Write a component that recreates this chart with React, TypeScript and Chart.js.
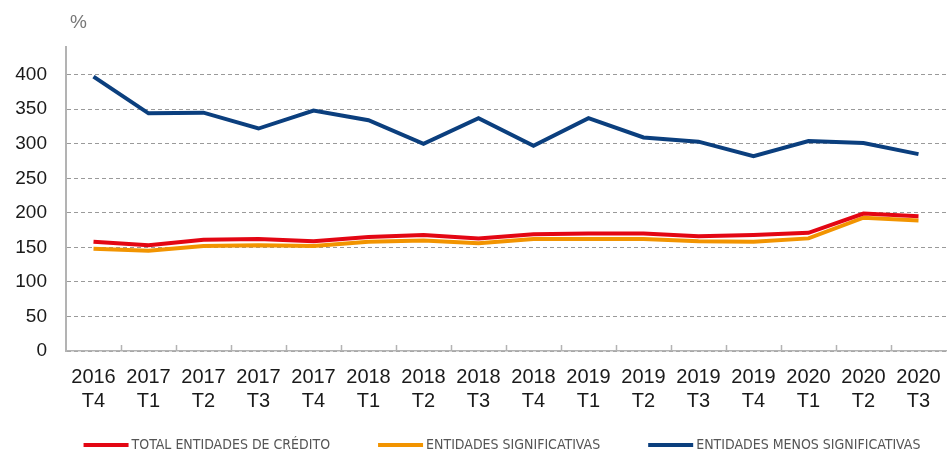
import React, { useEffect, useRef } from "react";
import { Chart, registerables } from "chart.js";

Chart.register(...registerables);

const categories: string[][] = [
  ["2016", "T4"], ["2017", "T1"], ["2017", "T2"], ["2017", "T3"], ["2017", "T4"],
  ["2018", "T1"], ["2018", "T2"], ["2018", "T3"], ["2018", "T4"],
  ["2019", "T1"], ["2019", "T2"], ["2019", "T3"], ["2019", "T4"],
  ["2020", "T1"], ["2020", "T2"], ["2020", "T3"],
];

const totalEntidades = [158, 153, 161, 162, 159, 165, 168, 163, 169, 170, 170, 166, 168, 171, 199, 195];
const entidadesSignificativas = [148, 145, 152, 153, 152, 158, 160, 156, 162, 162, 162, 159, 158, 163, 193, 189];
const entidadesMenosSignificativas = [397, 344, 345, 322, 348, 334, 300, 337, 297, 337, 309, 303, 282, 304, 301, 285];

const seriesNames = [
  "TOTAL ENTIDADES DE CRÉDITO",
  "ENTIDADES SIGNIFICATIVAS",
  "ENTIDADES MENOS SIGNIFICATIVAS",
];
const yTickValues = [0, 50, 100, 150, 200, 250, 300, 350, 400];
const unitLabel = "%";

const RED = "#e30613";
const ORANGE = "#f29400";
const BLUE = "#0b3f7e";
const GRID = "#9a9a9a";
const AXIS = "#b3b3b3";
const FONT = "'Liberation Sans', Arial, Helvetica, sans-serif";
const LEGEND_FONT = "14px 'Liberation Sans Narrow', 'DejaVu Sans Condensed', 'Liberation Sans', sans-serif";

const extrasPlugin = {
  id: "extras",
  afterDraw(chart: any) {
    const ctx = chart.ctx as CanvasRenderingContext2D;
    const area = chart.chartArea;
    const xs = chart.scales.x;
    ctx.save();
    // inward tick marks between categories
    ctx.strokeStyle = AXIS;
    ctx.lineWidth = 1.5;
    ctx.beginPath();
    for (let i = 1; i < categories.length; i++) {
      const px = Math.round((xs.getPixelForValue(i - 1) + xs.getPixelForValue(i)) / 2) + 0.5;
      ctx.moveTo(px, area.bottom);
      ctx.lineTo(px, area.bottom - 6);
    }
    ctx.stroke();

    // unit label
    ctx.fillStyle = "#777777";
    ctx.font = `19px ${FONT}`;
    ctx.textAlign = "left";
    ctx.textBaseline = "middle";
    ctx.fillText(unitLabel, area.left + 4, 23);

    // legend
    ctx.font = LEGEND_FONT;
    const items = chart.data.datasets.map((ds: any) => ({
      label: ds.label as string,
      color: ds.borderColor as string,
      w: ctx.measureText(ds.label).width,
    }));
    const lineW = 45;
    const gap = 3;
    const itemGap = 48;
    const total =
      items.reduce((s: number, it: any) => s + lineW + gap + it.w, 0) + itemGap * (items.length - 1);
    let x = (area.left + area.right) / 2 - 4 - total / 2;
    const y = chart.height - 8;
    for (const it of items) {
      ctx.fillStyle = it.color;
      ctx.fillRect(x, y - 2, lineW, 4);
      x += lineW + gap;
      ctx.fillStyle = "#555555";
      ctx.textBaseline = "middle";
      ctx.fillText(it.label, x, y);
      x += it.w + itemGap;
    }
    ctx.restore();
  },
};

export default function App() {
  const canvasRef = useRef<HTMLCanvasElement | null>(null);

  useEffect(() => {
    if (!canvasRef.current) return;
    const chart = new Chart(canvasRef.current, {
      type: "line",
      data: {
        labels: categories,
        datasets: [
          { label: seriesNames[0], data: totalEntidades, borderColor: RED, backgroundColor: RED },
          { label: seriesNames[1], data: entidadesSignificativas, borderColor: ORANGE, backgroundColor: ORANGE },
          { label: seriesNames[2], data: entidadesMenosSignificativas, borderColor: BLUE, backgroundColor: BLUE },
        ],
      },
      options: {
        animation: false,
        responsive: true,
        maintainAspectRatio: false,
        layout: { padding: { top: 47, right: 1, bottom: 40, left: 0 } },
        elements: {
          line: { borderWidth: 4, tension: 0, borderJoinStyle: "miter" },
          point: { radius: 0, hoverRadius: 0 },
        },
        plugins: {
          legend: { display: false },
          tooltip: { enabled: false },
        },
        scales: {
          x: {
            offset: true,
            grid: {
              display: true,
              drawOnChartArea: false,
              drawTicks: true,
              tickLength: 14,
              color: "transparent",
              tickColor: "transparent",
            },
            border: { display: true, color: AXIS, width: 1.5 },
            ticks: {
              color: "#1a1a1a",
              font: { family: FONT, size: 20 },
              padding: 0,
              maxRotation: 0,
              autoSkip: false,
            },
          },
          y: {
            min: 0,
            max: 440,
            afterBuildTicks: (scale: any) => {
              scale.ticks = yTickValues.map((v) => ({ value: v }));
            },
            afterFit: (scale: any) => {
              scale.width = 66;
            },
            grid: { color: GRID, lineWidth: 1, drawTicks: false },
            border: { display: true, color: AXIS, width: 2, dash: [4, 3] },
            ticks: {
              color: "#1a1a1a",
              font: { family: FONT, size: 19 },
              padding: 19,
            },
          },
        },
      },
      plugins: [extrasPlugin],
    });
    return () => chart.destroy();
  }, []);

  return (
    <div style={{ position: "fixed", left: 0, top: 0, width: 947, height: 453, background: "#fff" }}>
      <canvas ref={canvasRef} />
    </div>
  );
}
